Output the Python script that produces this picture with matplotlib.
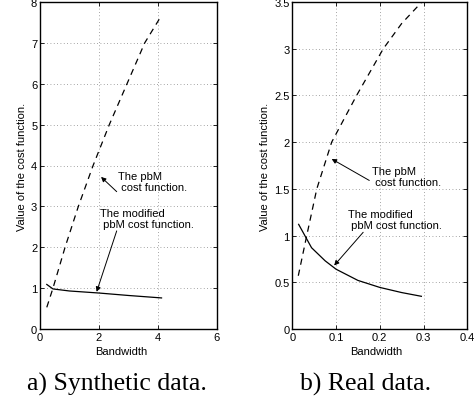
import matplotlib
matplotlib.use("Agg")
import matplotlib.pyplot as plt

# Left panel: synthetic data
syn_pbm_x = [0.23, 0.44, 0.85, 1.3, 1.8, 2.35, 2.95, 3.55, 4.11]
syn_pbm_y = [0.53, 1.0, 2.0, 3.0, 4.0, 5.0, 6.0, 7.0, 7.66]
syn_mod_x = [0.23, 0.44, 1.0, 2.0, 3.0, 4.12]
syn_mod_y = [1.09, 0.98, 0.93, 0.88, 0.82, 0.76]

# Right panel: real data
real_pbm_x = [0.0137, 0.033, 0.056, 0.09, 0.147, 0.208, 0.25, 0.296]
real_pbm_y = [0.57, 1.0, 1.5, 2.0, 2.5, 3.0, 3.27, 3.5]
real_mod_x = [0.0145, 0.044, 0.075, 0.1, 0.15, 0.2, 0.25, 0.295]
real_mod_y = [1.12, 0.87, 0.73, 0.64, 0.52, 0.445, 0.39, 0.35]

syn_xticks = [0, 2, 4, 6]
syn_yticks = [0, 1, 2, 3, 4, 5, 6, 7, 8]
real_xticks = [0, 0.1, 0.2, 0.3, 0.4]
real_yticks = [0, 0.5, 1, 1.5, 2, 2.5, 3, 3.5]

xlabel = "Bandwidth"
ylabel = "Value of the cost function."
captions = ["a) Synthetic data.", "b) Real data."]
note_pbm = "The pbM\n cost function."
note_mod = "The modified\n pbM cost function."

plt.rcParams['font.family'] = ['Liberation Sans', 'DejaVu Sans']
fs = 8

fig = plt.figure(figsize=(4.75, 4.02), dpi=100)
axL = fig.add_axes([40/475, 72/402, 177/475, 327/402])
axR = fig.add_axes([292.3/475, 72/402, 175/475, 327/402])


def style(ax, xt, yt, ylab_x, xlab_x):
    ax.set_xlim(xt[0], xt[-1])
    ax.set_ylim(yt[0], yt[-1])
    ax.set_xticks(xt)
    ax.set_yticks(yt)
    ax.set_xticklabels([f"{v:g}" for v in xt])
    ax.set_yticklabels([f"{v:g}" for v in yt])
    ax.tick_params(direction='in', length=3, width=0.6, labelsize=fs,
                   top=True, right=True, pad=2, colors='black')
    ax.grid(True, linestyle=(0, (1, 3)), color='#888888', linewidth=0.6)
    for s in ax.spines.values():
        s.set_linewidth(1.0)
        s.set_color('black')
    ax.set_xlabel(xlabel, fontsize=fs)
    ax.set_ylabel(ylabel, fontsize=fs)
    ax.yaxis.set_label_coords(ylab_x, 0.5)
    ax.yaxis.label.set_va('center')
    ax.xaxis.set_label_coords(xlab_x, -0.066)
    ax.xaxis.label.set_va('center')


def arrow(ax, tail, tip):
    ax.annotate('', xy=tip, xytext=tail,
                arrowprops=dict(arrowstyle='-|>', color='black', lw=0.7,
                                mutation_scale=7, shrinkA=0, shrinkB=0))


# Left
axL.plot(syn_pbm_x, syn_pbm_y, color='black', lw=0.9, linestyle=(0, (5, 4)))
axL.plot(syn_mod_x, syn_mod_y, color='black', lw=0.9)
style(axL, syn_xticks, syn_yticks, -0.103, 0.458)
axL.text(2.65, 3.6, note_pbm, fontsize=fs, ha='left', va='center', linespacing=1.1)
arrow(axL, (2.6, 3.36), (2.07, 3.72))
axL.text(2.03, 2.71, note_mod, fontsize=fs, ha='left', va='center', linespacing=1.1)
arrow(axL, (2.6, 2.40), (1.92, 0.91))

# Right
axR.plot(real_pbm_x, real_pbm_y, color='black', lw=0.9, linestyle=(0, (5, 4)))
axR.plot(real_mod_x, real_mod_y, color='black', lw=0.9)
style(axR, real_xticks, real_yticks, -0.156, 0.477)
axR.text(0.183, 1.63, note_pbm, fontsize=fs, ha='left', va='center', linespacing=1.1)
arrow(axR, (0.176, 1.59), (0.09, 1.82))
axR.text(0.128, 1.17, note_mod, fontsize=fs, ha='left', va='center', linespacing=1.1)
arrow(axR, (0.162, 1.035), (0.0957, 0.68))

fig.text(117/475, 1 - 384/402, captions[0], fontsize=18.5, family='Liberation Serif',
         ha='center', va='center')
fig.text(366/475, 1 - 384/402, captions[1], fontsize=18.5, family='Liberation Serif',
         ha='center', va='center')

fig.savefig('out.png', dpi=100)
